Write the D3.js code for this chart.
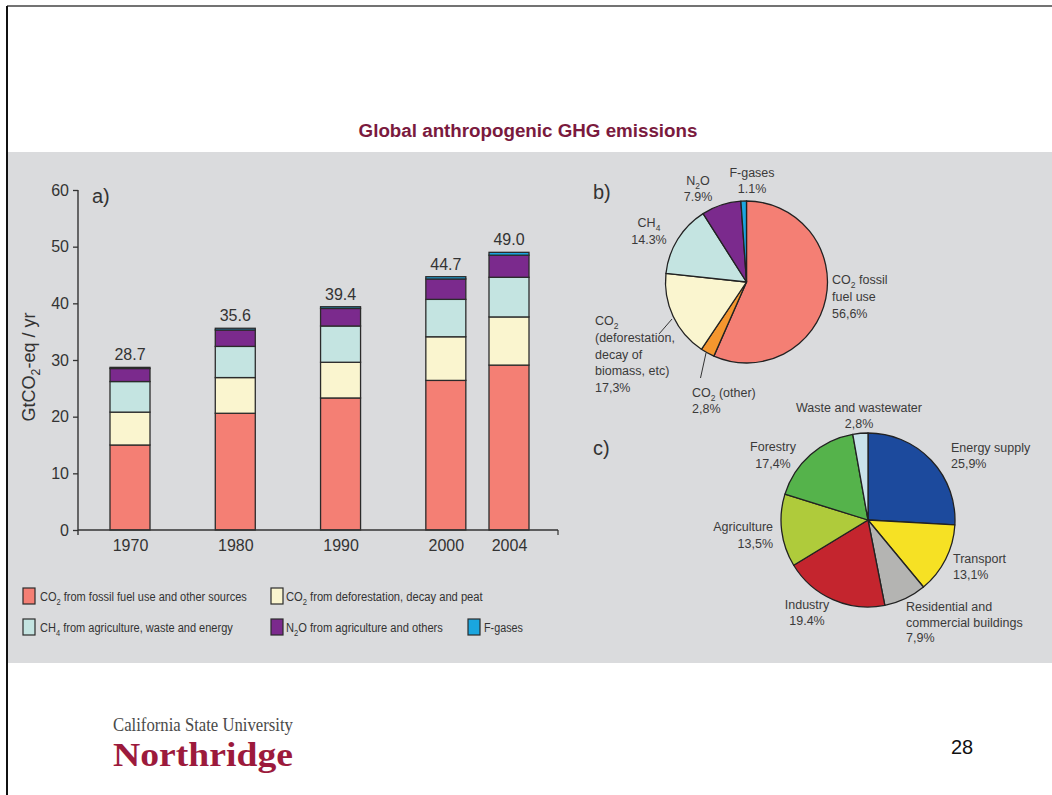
<!DOCTYPE html>
<html>
<head>
<meta charset="utf-8">
<script src="https://cdn.jsdelivr.net/npm/d3@7"></script>
<style>
  html, body { margin: 0; padding: 0; background: #fff; }
  svg { display: block; }
</style>
</head>
<body>
<svg id="slide" width="1052" height="795"></svg>
<script>
// ---------- data ----------
const years = [1970, 1980, 1990, 2000, 2004];
const yearSlots = [0, 1, 2, 3, 3.6];          // 2004 sits close to 2000
const co2Fossil = [15.0, 20.6, 23.3, 26.4, 29.1];
const co2Deforestation = [5.8, 6.3, 6.3, 7.7, 8.5];
const ch4 = [5.4, 5.5, 6.4, 6.6, 7.0];
const n2o = [2.3, 2.9, 3.1, 3.6, 3.9];
const fGases = [0.2, 0.3, 0.3, 0.4, 0.5];
const yTicks = [0, 10, 20, 30, 40, 50, 60];

const seriesNames = [
  "CO_2 from fossil fuel use and other sources",
  "CO_2 from deforestation, decay and peat",
  "CH_4 from agriculture, waste and energy",
  "N_2O from agriculture and others",
  "F-gases"
];
const seriesColors = ["#f47f74", "#faf5cf", "#c4e4e1", "#7b2a8d", "#1aa6df"];

const gasNames = ["CO_2 fossil|fuel use", "CO_2 (other)", "CO_2|(deforestation,|decay of|biomass, etc)", "CH_4", "N_2O", "F-gases"];
const gasShares = [56.6, 2.8, 17.3, 14.3, 7.9, 1.1];
const gasDecimal = [",", ",", ",", ".", ".", "."];
const gasColors = ["#f47f74", "#f4962e", "#faf5cf", "#c4e4e1", "#7b2a8d", "#1aa6df"];

const sectorNames = ["Energy supply", "Transport", "Residential and|commercial buildings", "Industry", "Agriculture", "Forestry", "Waste and wastewater"];
const sectorShares = [25.9, 13.1, 7.9, 19.4, 13.5, 17.4, 2.8];
const sectorDecimal = [",", ",", ",", ".", ",", ",", ","];
const sectorColors = ["#1c4a9d", "#f6e124", "#b4b4b2", "#c4252e", "#afcb3b", "#55b34b", "#c9e2ea"];

// ---------- helpers ----------
const svg = d3.select("#slide");
const SANS = "'Liberation Sans', Arial, Helvetica, sans-serif";
const SERIF = "'Liberation Serif', 'Times New Roman', serif";
const INK = "#333";

// write text where "_x" makes x a subscript
function rich(textSel, str, size) {
  const parts = str.split(/(_\w)/).filter(s => s.length);
  let lowered = false;
  parts.forEach(p => {
    if (p[0] === "_") {
      textSel.append("tspan").attr("dy", size * 0.28).attr("font-size", size * 0.68).text(p.slice(1));
      lowered = true;
    } else {
      textSel.append("tspan").attr("dy", lowered ? -size * 0.28 : null).text(p);
      lowered = false;
    }
  });
  return textSel;
}

// scale a text horizontally (from its anchor point) so it spans the given width
function fitWidth(textSel, x, yPos, width) {
  const natural = textSel.node().getComputedTextLength();
  const k = width / natural;
  textSel.attr("transform", `translate(${x},${yPos}) scale(${k},1)`);
  return textSel;
}

// ---------- page frame ----------
svg.append("line").attr("x1", 7).attr("x2", 1052).attr("y1", 6).attr("y2", 6)
  .attr("stroke", "#444").attr("stroke-width", 1.5);
svg.append("line").attr("x1", 7).attr("x2", 7).attr("y1", 6).attr("y2", 795)
  .attr("stroke", "#111").attr("stroke-width", 2);

fitWidth(svg.append("text").attr("text-anchor", "middle")
  .attr("font-family", "'Liberation Sans Narrow', 'Arial Narrow', " + SANS)
  .attr("font-weight", "bold").attr("font-size", 19).attr("fill", "#7a1a3e")
  .text("Global anthropogenic GHG emissions"), 528, 137, 339);

svg.append("rect").attr("x", 8).attr("y", 152).attr("width", 1044).attr("height", 511)
  .attr("fill", "#dadbdd");

// ---------- a) stacked bars ----------
const x = d3.scaleLinear().domain([0, 3.6]).range([130, 509]);
const y = d3.scaleLinear().domain([0, 60]).range([530, 190]);
const barW = 40;

const rows = years.map((yr, i) => ({
  year: yr, slot: yearSlots[i],
  s0: co2Fossil[i], s1: co2Deforestation[i], s2: ch4[i], s3: n2o[i], s4: fGases[i]
}));
const stack = d3.stack().keys(["s0", "s1", "s2", "s3", "s4"])(rows);

const bars = svg.append("g");
stack.forEach((layer, k) => {
  bars.selectAll(null).data(layer).join("rect")
    .attr("x", d => x(d.data.slot) - barW / 2)
    .attr("width", barW)
    .attr("y", d => y(d[1]))
    .attr("height", d => y(d[0]) - y(d[1]))
    .attr("fill", seriesColors[k])
    .attr("stroke", "#2b2b2b").attr("stroke-width", 1.3);
});

// totals above each bar
const topLayer = stack[stack.length - 1];
svg.append("g").selectAll("text").data(topLayer).join("text")
  .attr("x", d => x(d.data.slot)).attr("y", d => y(d[1]) - 7)
  .attr("text-anchor", "middle").attr("font-family", SANS).attr("font-size", 16)
  .attr("fill", INK).text(d => d[1].toFixed(1));

// y axis
const yAxis = svg.append("g").attr("transform", "translate(78,0)")
  .call(d3.axisLeft(y).tickValues(yTicks).tickSize(5).tickPadding(4));
yAxis.select(".domain").remove();
yAxis.selectAll("line").attr("stroke", INK).attr("stroke-width", 1.3);
yAxis.selectAll("text").attr("font-family", SANS).attr("font-size", 16).attr("fill", INK);
svg.append("line").attr("x1", 78).attr("x2", 78).attr("y1", y(60)).attr("y2", y(0) + 5)
  .attr("stroke", INK).attr("stroke-width", 1.4);

// x axis
const xAxis = svg.append("g").attr("transform", `translate(0,${y(0)})`)
  .call(d3.axisBottom(x).tickValues(yearSlots).tickSize(0).tickPadding(10)
    .tickFormat((d, i) => years[i]));
xAxis.select(".domain").remove();
xAxis.selectAll("text").attr("font-family", SANS).attr("font-size", 16).attr("fill", INK);
svg.append("line").attr("x1", 78).attr("x2", 558).attr("y1", y(0)).attr("y2", y(0))
  .attr("stroke", INK).attr("stroke-width", 1.4);
svg.append("line").attr("x1", 558).attr("x2", 558).attr("y1", y(0)).attr("y2", y(0) + 5)
  .attr("stroke", INK).attr("stroke-width", 1.2);

// axis title
rich(svg.append("text").attr("transform", "translate(35,367) rotate(-90)")
  .attr("text-anchor", "middle").attr("font-family", SANS).attr("font-size", 18).attr("fill", INK),
  "GtCO_2-eq / yr", 18);

svg.append("text").attr("x", 92).attr("y", 203).attr("font-family", SANS)
  .attr("font-size", 20).attr("fill", INK).text("a)");

// legend
const legendPos = [
  { sx: 23, tx: 40, y: 588, w: 207 },
  { sx: 271, tx: 286, y: 588, w: 197 },
  { sx: 23, tx: 40, y: 619, w: 193 },
  { sx: 271, tx: 286, y: 619, w: 157 },
  { sx: 468, tx: 484, y: 619, w: 39 }
];
seriesNames.forEach((name, i) => {
  const p = legendPos[i];
  svg.append("rect").attr("x", p.sx).attr("y", p.y).attr("width", 12).attr("height", 16)
    .attr("fill", seriesColors[i]).attr("stroke", "#2b2b2b").attr("stroke-width", 1.2);
  const t = rich(svg.append("text").attr("font-family", SANS).attr("font-size", 13.5)
    .attr("fill", INK), name, 13.5);
  fitWidth(t, p.tx, p.y + 13, p.w);
});

// ---------- pies ----------
const pie = d3.pie().sort(null).value(d => d);

function drawPie(cx, cy, r, values, colors) {
  const arc = d3.arc().innerRadius(0).outerRadius(r);
  svg.append("g").attr("transform", `translate(${cx},${cy})`)
    .selectAll("path").data(pie(values)).join("path")
    .attr("d", arc).attr("fill", (d, i) => colors[i])
    .attr("stroke", "#222").attr("stroke-width", 1.3).attr("stroke-linejoin", "round");
}

function drawLabels(names, values, decimals, layout) {
  names.forEach((name, i) => {
    const L = layout[i];
    const lines = name.split("|").concat(values[i].toFixed(1).replace(".", decimals[i]) + "%");
    lines.forEach((line, j) => {
      rich(svg.append("text").attr("x", L.x).attr("y", L.y + j * L.lh)
        .attr("text-anchor", L.a).attr("font-family", SANS).attr("font-size", 12.5)
        .attr("fill", "#3a3a3a"), line, 12.5);
    });
  });
}

// b) share of gases
drawPie(746.5, 282, 81, gasShares, gasColors);
drawLabels(gasNames, gasShares, gasDecimal, [
  { x: 832, y: 284, lh: 17, a: "start" },
  { x: 692, y: 397, lh: 15.5, a: "start" },
  { x: 595, y: 325, lh: 16.8, a: "start" },
  { x: 649, y: 227, lh: 17, a: "middle" },
  { x: 698, y: 185, lh: 16, a: "middle" },
  { x: 752, y: 177, lh: 16, a: "middle" }
]);
svg.append("line").attr("x1", 672).attr("y1", 319).attr("x2", 659).attr("y2", 334)
  .attr("stroke", "#333").attr("stroke-width", 1);
svg.append("line").attr("x1", 706).attr("y1", 353).attr("x2", 700.5).attr("y2", 378)
  .attr("stroke", "#333").attr("stroke-width", 1);
svg.append("text").attr("x", 593).attr("y", 199).attr("font-family", SANS)
  .attr("font-size", 20).attr("fill", INK).text("b)");

// c) share of sectors
drawPie(868, 520, 87, sectorShares, sectorColors);
drawLabels(sectorNames, sectorShares, sectorDecimal, [
  { x: 951, y: 452, lh: 16, a: "start" },
  { x: 953, y: 563, lh: 16, a: "start" },
  { x: 906, y: 611, lh: 15.5, a: "start" },
  { x: 807, y: 609, lh: 16, a: "middle" },
  { x: 773, y: 531, lh: 17, a: "end" },
  { x: 773, y: 451, lh: 17, a: "middle" },
  { x: 859, y: 412, lh: 16, a: "middle" }
]);
svg.append("text").attr("x", 593).attr("y", 455).attr("font-family", SANS)
  .attr("font-size", 20).attr("fill", INK).text("c)");

// ---------- footer ----------
fitWidth(svg.append("text").attr("font-family", SERIF)
  .attr("font-size", 18).attr("fill", "#4a4a4a")
  .text("California State University"), 113, 731, 180);
fitWidth(svg.append("text").attr("font-family", SERIF)
  .attr("font-weight", "bold").attr("font-size", 33).attr("fill", "#9c1a3c")
  .text("Northridge"), 113, 766, 180);
svg.append("text").attr("x", 951).attr("y", 754).attr("font-family", SANS)
  .attr("font-size", 20).attr("fill", "#111").text("28");
</script>
</body>
</html>
